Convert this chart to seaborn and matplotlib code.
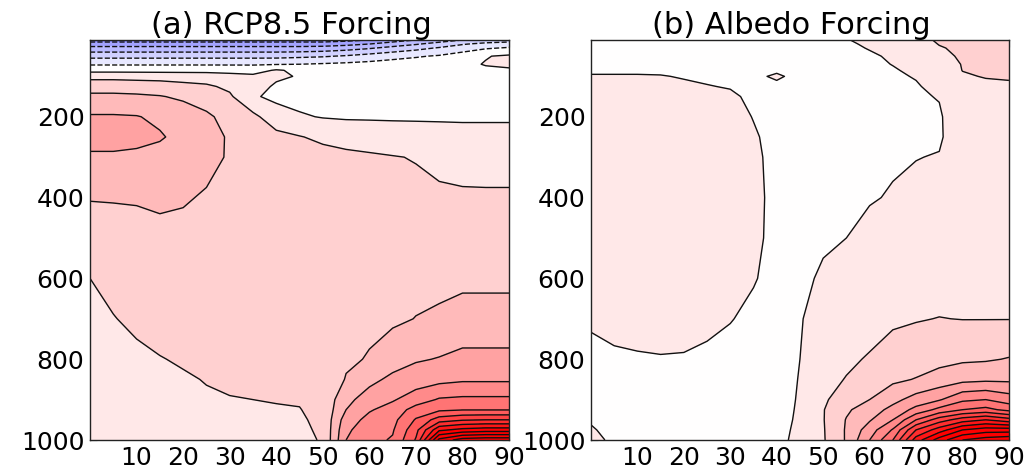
import numpy as np
import matplotlib
matplotlib.use("Agg")
import matplotlib.pyplot as plt
import seaborn as sns

# ---------------- data ----------------
latitudes = [0, 5, 10, 15, 20, 25, 30, 35, 40, 45, 50, 55, 60, 65, 70, 75, 80, 85, 90]
pressure_levels = [10, 20, 30, 50, 70, 85, 100, 125, 150, 200, 250, 300, 400, 500,
                   600, 700, 800, 850, 900, 925, 950, 975, 1000]

# temperature change, one list per latitude (values along pressure_levels)
rcp85_by_lat = [
    [-5.0, -4.0, -3.2, -1.8, -0.6, 0.2, 1.2, 2.1, 2.7, 3.6, 4.0, 3.3, 2.55, 2.0, 1.5, 1.4, 1.3, 1.3, 1.25, 1.2, 1.2, 1.2, 1.2],
    [-5.0, -4.0, -3.2, -1.8, -0.6, 0.2, 1.2, 2.1, 2.7, 3.6, 4.0, 3.3, 2.57, 2.05, 1.65, 1.48, 1.35, 1.3, 1.25, 1.22, 1.2, 1.2, 1.2],
    [-5.0, -4.0, -3.2, -1.8, -0.6, 0.2, 1.15, 2.05, 2.65, 3.55, 3.9, 3.2, 2.6, 2.1, 1.8, 1.6, 1.4, 1.35, 1.3, 1.3, 1.25, 1.25, 1.25],
    [-5.0, -4.0, -3.2, -1.8, -0.6, 0.2, 1.1, 2.0, 2.55, 3.3, 3.6, 3.15, 2.7, 2.2, 1.9, 1.7, 1.48, 1.4, 1.35, 1.3, 1.3, 1.3, 1.3],
    [-5.0, -4.0, -3.2, -1.8, -0.6, 0.2, 1.05, 1.8, 2.35, 3.0, 3.2, 3.0, 2.6, 2.2, 1.95, 1.75, 1.55, 1.45, 1.4, 1.35, 1.3, 1.3, 1.3],
    [-5.0, -4.0, -3.2, -1.8, -0.6, 0.2, 1.0, 1.65, 2.1, 2.65, 2.85, 2.8, 2.4, 2.15, 1.95, 1.8, 1.62, 1.52, 1.45, 1.4, 1.38, 1.35, 1.35],
    [-5.0, -4.0, -3.2, -1.8, -0.6, 0.15, 0.85, 1.3, 1.65, 2.2, 2.4, 2.4, 2.3, 2.1, 1.95, 1.8, 1.68, 1.58, 1.48, 1.45, 1.42, 1.4, 1.4],
    [-5.0, -4.0, -3.2, -1.8, -0.6, 0.1, 0.7, 0.8, 0.6, 1.75, 2.1, 2.25, 2.2, 2.05, 1.95, 1.8, 1.7, 1.62, 1.5, 1.45, 1.42, 1.4, 1.4],
    [-5.0, -4.0, -3.2, -1.8, -0.55, 0.6, 0.62, 0.4, 0.3, 0.9, 1.8, 2.1, 2.15, 2.05, 1.95, 1.85, 1.75, 1.68, 1.52, 1.47, 1.45, 1.42, 1.4],
    [-5.0, -4.0, -3.2, -1.7, -0.5, 0.3, 0.45, 0.3, 0.2, 0.6, 1.55, 1.95, 2.15, 2.1, 2.0, 1.9, 1.8, 1.72, 1.55, 1.48, 1.42, 1.38, 1.35],
    [-5.0, -4.0, -3.1, -1.6, -0.4, -0.1, 0.1, 0.2, 0.2, 0.45, 1.3, 1.85, 2.15, 2.15, 2.1, 2.0, 1.9, 1.85, 1.75, 1.7, 1.65, 1.6, 1.55],
    [-4.8, -3.8, -2.9, -1.4, -0.3, -0.1, 0.1, 0.15, 0.2, 0.4, 1.1, 1.75, 2.1, 2.2, 2.2, 2.25, 2.38, 2.55, 3.2, 3.5, 4.0, 4.3, 4.5],
    [-4.5, -3.5, -2.6, -1.1, -0.2, 0.0, 0.1, 0.15, 0.2, 0.4, 1.0, 1.65, 2.0, 2.15, 2.25, 2.35, 2.55, 3.2, 4.0, 4.4, 4.8, 5.1, 5.2],
    [-4.0, -3.0, -2.2, -0.8, -0.1, 0.05, 0.1, 0.15, 0.2, 0.4, 0.9, 1.55, 1.85, 2.1, 2.25, 2.35, 3.0, 3.75, 4.4, 4.9, 5.2, 5.4, 5.6],
    [-3.5, -2.6, -1.8, -0.6, 0.0, 0.1, 0.12, 0.15, 0.2, 0.4, 0.85, 1.45, 1.75, 2.05, 2.25, 2.52, 3.4, 4.0, 5.0, 5.9, 6.6, 7.2, 7.6],
    [-3.0, -2.1, -1.4, -0.4, 0.1, 0.15, 0.15, 0.15, 0.2, 0.4, 0.8, 1.2, 1.7, 2.0, 2.25, 2.65, 3.55, 4.2, 5.6, 6.3, 8.0, 10.3, 12.8],
    [-2.5, -1.6, -0.9, -0.1, 0.3, 0.25, 0.2, 0.2, 0.2, 0.4, 0.75, 1.1, 1.65, 2.0, 2.3, 2.85, 3.75, 4.35, 5.7, 6.45, 8.4, 10.8, 14.0],
    [-2.2, -1.2, -0.6, 0.45, 0.55, 0.35, 0.2, 0.2, 0.2, 0.4, 0.75, 1.05, 1.65, 2.0, 2.3, 2.85, 3.75, 4.35, 5.7, 6.45, 8.5, 11.0, 14.2],
    [-2.0, -1.0, -0.4, 0.65, 0.65, 0.4, 0.2, 0.2, 0.2, 0.4, 0.75, 1.05, 1.65, 2.0, 2.3, 2.85, 3.75, 4.35, 5.7, 6.45, 8.5, 11.0, 14.2],
]

albedo_by_lat = [
    [0.3, 0.3, 0.3, 0.3, 0.35, 0.4, 0.55, 0.7, 0.75, 0.8, 0.8, 0.8, 0.8, 0.75, 0.7, 0.55, 0.4, 0.3, 0.3, 0.35, 0.45, 0.55, 0.65],
    [0.3, 0.3, 0.3, 0.3, 0.35, 0.4, 0.55, 0.7, 0.75, 0.8, 0.8, 0.8, 0.8, 0.75, 0.7, 0.6, 0.45, 0.35, 0.3, 0.3, 0.3, 0.35, 0.4],
    [0.3, 0.3, 0.3, 0.3, 0.35, 0.4, 0.55, 0.7, 0.75, 0.8, 0.8, 0.8, 0.8, 0.75, 0.7, 0.62, 0.47, 0.37, 0.3, 0.3, 0.3, 0.3, 0.3],
    [0.3, 0.3, 0.3, 0.3, 0.35, 0.4, 0.53, 0.68, 0.75, 0.8, 0.8, 0.8, 0.8, 0.75, 0.7, 0.65, 0.48, 0.38, 0.3, 0.3, 0.3, 0.3, 0.3],
    [0.3, 0.3, 0.3, 0.3, 0.33, 0.38, 0.46, 0.6, 0.7, 0.78, 0.8, 0.8, 0.8, 0.75, 0.7, 0.65, 0.47, 0.36, 0.3, 0.3, 0.3, 0.3, 0.3],
    [0.3, 0.3, 0.3, 0.3, 0.32, 0.36, 0.42, 0.52, 0.62, 0.72, 0.75, 0.75, 0.75, 0.72, 0.68, 0.6, 0.42, 0.33, 0.3, 0.3, 0.3, 0.3, 0.3],
    [0.3, 0.3, 0.3, 0.3, 0.32, 0.34, 0.38, 0.47, 0.58, 0.7, 0.72, 0.72, 0.72, 0.7, 0.65, 0.52, 0.35, 0.3, 0.3, 0.3, 0.3, 0.3, 0.3],
    [0.3, 0.3, 0.3, 0.3, 0.32, 0.34, 0.36, 0.38, 0.4, 0.48, 0.56, 0.6, 0.62, 0.6, 0.53, 0.4, 0.32, 0.3, 0.3, 0.3, 0.3, 0.3, 0.3],
    [0.3, 0.3, 0.3, 0.3, 0.32, 0.4, 0.6, 0.35, 0.32, 0.32, 0.33, 0.35, 0.37, 0.37, 0.36, 0.34, 0.32, 0.32, 0.33, 0.35, 0.37, 0.4, 0.42],
    [0.35, 0.32, 0.3, 0.3, 0.3, 0.3, 0.3, 0.3, 0.3, 0.3, 0.31, 0.32, 0.35, 0.38, 0.42, 0.46, 0.5, 0.52, 0.54, 0.55, 0.56, 0.57, 0.58],
    [0.45, 0.4, 0.38, 0.36, 0.35, 0.34, 0.34, 0.33, 0.33, 0.33, 0.34, 0.36, 0.4, 0.45, 0.55, 0.75, 1.0, 1.15, 1.35, 1.45, 1.45, 1.42, 1.4],
    [0.48, 0.45, 0.42, 0.4, 0.38, 0.37, 0.36, 0.35, 0.35, 0.35, 0.36, 0.38, 0.43, 0.5, 0.7, 0.9, 1.3, 1.55, 2.0, 2.35, 2.55, 2.6, 2.6],
    [0.6, 0.55, 0.52, 0.45, 0.42, 0.4, 0.4, 0.38, 0.38, 0.38, 0.4, 0.43, 0.48, 0.58, 0.75, 1.05, 1.6, 2.0, 2.5, 3.0, 3.4, 4.0, 4.5],
    [0.75, 0.7, 0.65, 0.55, 0.51, 0.47, 0.45, 0.43, 0.42, 0.42, 0.44, 0.47, 0.52, 0.7, 0.95, 1.35, 1.9, 2.3, 3.2, 3.8, 4.5, 5.6, 6.5],
    [1.0, 0.9, 0.85, 0.75, 0.62, 0.57, 0.52, 0.47, 0.45, 0.45, 0.47, 0.49, 0.6, 0.8, 1.05, 1.45, 2.0, 2.55, 3.9, 4.8, 6.5, 8.5, 10.0],
    [1.7, 1.55, 1.4, 1.2, 0.95, 0.8, 0.7, 0.6, 0.52, 0.45, 0.45, 0.52, 0.65, 0.85, 1.1, 1.52, 2.2, 2.9, 4.4, 5.8, 8.0, 10.0, 12.0],
    [2.0, 1.85, 1.75, 1.65, 1.55, 1.52, 1.4, 1.2, 1.0, 0.8, 0.75, 0.75, 0.8, 0.95, 1.15, 1.48, 2.35, 3.2, 5.3, 6.5, 9.0, 11.5, 13.5],
    [2.2, 2.0, 1.9, 1.8, 1.7, 1.65, 1.55, 1.3, 1.1, 0.9, 0.85, 0.85, 0.85, 0.97, 1.15, 1.48, 2.4, 3.3, 5.5, 6.8, 9.5, 12.0, 14.0],
    [2.4, 2.1, 2.0, 1.9, 1.8, 1.7, 1.6, 1.35, 1.15, 0.95, 0.9, 0.88, 0.88, 0.98, 1.15, 1.48, 2.55, 3.3, 5.0, 6.2, 8.9, 12.0, 14.3],
]

contour_levels = [-14.5, -13.5, -12.5, -11.5, -10.5, -9.5, -8.5, -7.5, -6.5, -5.5, -4.5, -3.5,
                  -2.5, -1.5, -0.5, 0.5, 1.5, 2.5, 3.5, 4.5, 5.5, 6.5, 7.5, 8.5, 9.5, 10.5,
                  11.5, 12.5, 13.5, 14.5]
color_limit = 11.0
panel_titles = ["(a) RCP8.5 Forcing", "(b) Albedo Forcing"]
x_ticks = [10, 20, 30, 40, 50, 60, 70, 80, 90]
y_ticks = [200, 400, 600, 800, 1000]

# ---------------- style ----------------
sns.set_style("ticks", {"xtick.direction": "in", "ytick.direction": "in",
                        "axes.edgecolor": "#222222"})
plt.rcParams["font.family"] = ["DejaVu Sans"]
plt.rcParams["text.color"] = "black"
plt.rcParams["xtick.color"] = "black"
plt.rcParams["ytick.color"] = "black"
plt.rcParams["axes.labelcolor"] = "black"

fig = plt.figure(figsize=(10.29, 4.71), dpi=100)
positions = [[0.0875, 0.0658, 0.4072, 0.8493], [0.5743, 0.0658, 0.4062, 0.8493]]

for data, title, pos in zip([rcp85_by_lat, albedo_by_lat], panel_titles, positions):
    ax = fig.add_axes(pos)
    field = np.array(data).T
    ax.contourf(latitudes, pressure_levels, field, levels=contour_levels, cmap="bwr",
                vmin=-color_limit, vmax=color_limit)
    ax.contour(latitudes, pressure_levels, field, levels=contour_levels,
               colors="#111111", linewidths=1.0)
    ax.set_xlim(0, 90)
    ax.set_ylim(1000, 10)
    ax.set_xticks(x_ticks)
    ax.set_yticks(y_ticks)
    ax.tick_params(axis="both", which="both", direction="in", top=True, right=True,
                   length=5, width=0.8, labelsize=18, pad=4)
    for s in ax.spines.values():
        s.set_linewidth(1.0)
        s.set_visible(True)
    ax.set_title(title, fontsize=22, pad=3, x=0.48)

fig.savefig("out.png", dpi=100)
